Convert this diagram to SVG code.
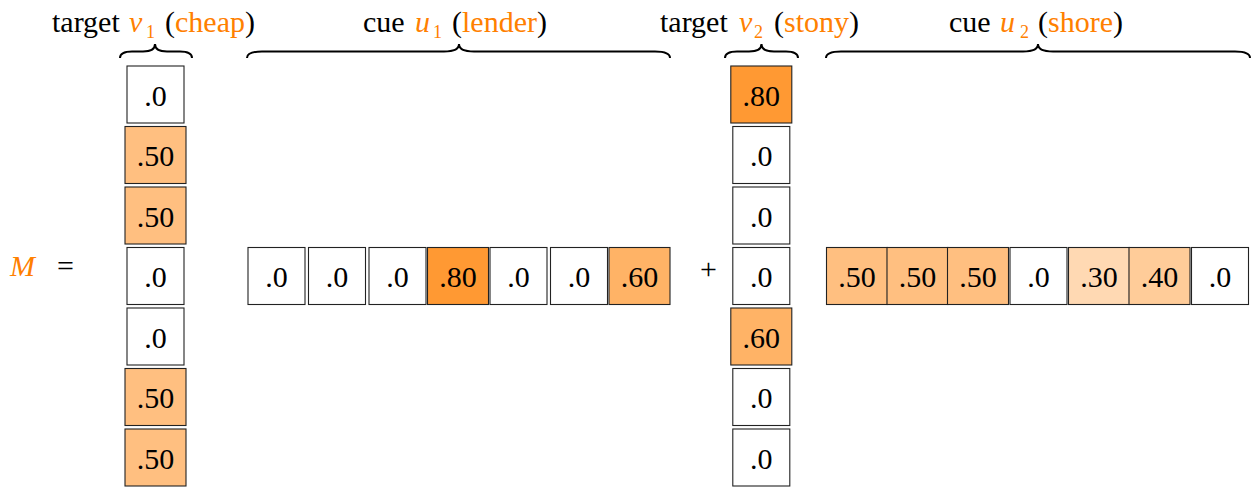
<svg xmlns="http://www.w3.org/2000/svg" width="1251" height="487" viewBox="0 0 1251 487">
<g id="labels" font-family="Liberation Serif" font-size="30">
<text font-family="Liberation Serif" x="52" y="32">target<tspan x="129" fill="#FF8000" font-style="italic">v</tspan><tspan fill="#FF8000" font-size="18" x="146" y="37.5">1</tspan><tspan x="165" y="32">(</tspan><tspan fill="#FF8000">cheap</tspan>)</text>
<text font-family="Liberation Serif" x="363" y="32">cue<tspan x="415" fill="#FF8000" font-style="italic">u</tspan><tspan fill="#FF8000" font-size="18" x="433" y="37.5">1</tspan><tspan x="452" y="32">(</tspan><tspan fill="#FF8000">lender</tspan>)</text>
<text font-family="Liberation Serif" x="660" y="32">target<tspan x="739" fill="#FF8000" font-style="italic">v</tspan><tspan fill="#FF8000" font-size="18" x="754" y="37.5">2</tspan><tspan x="774" y="32">(</tspan><tspan fill="#FF8000">stony</tspan>)</text>
<text font-family="Liberation Serif" x="949" y="32">cue<tspan x="1000" fill="#FF8000" font-style="italic">u</tspan><tspan fill="#FF8000" font-size="18" x="1020" y="37.5">2</tspan><tspan x="1038" y="32">(</tspan><tspan fill="#FF8000">shore</tspan>)</text>
<text font-family="Liberation Serif" fill="#FF8000" font-style="italic" x="10" y="276">M</text>
<text font-family="Liberation Serif" x="57" y="276">=</text>
<text font-family="Liberation Serif" x="700" y="279">+</text>
</g>
<g id="braces" fill="none" stroke="#000" stroke-width="2">
<path d="M120,58 Q120,51.5 132,51.5 L143,51.5 Q155,51.5 155,44 Q155,51.5 167,51.5 L180,51.5 Q192,51.5 192,58"/>
<path d="M247,58 Q247,51.5 262,51.5 L444,51.5 Q459,51.5 459,44 Q459,51.5 474,51.5 L655,51.5 Q670,51.5 670,58"/>
<path d="M725,58 Q725,51.5 737,51.5 L749,51.5 Q761.5,51.5 761.5,44 Q761.5,51.5 774,51.5 L786,51.5 Q798,51.5 798,58"/>
<path d="M826,58 Q826,51.5 841,51.5 L1023,51.5 Q1038,51.5 1038,44 Q1038,51.5 1053,51.5 L1235,51.5 Q1250,51.5 1250,58"/>
</g>
<g id="v1" stroke-width="1.1" font-family="Liberation Serif" font-size="30" text-anchor="middle">
<g id="v1-1"><rect x="127" y="66" width="57" height="57" fill="#fff" stroke="#222"/><text font-family="Liberation Serif" x="155.5" y="105.5">.0</text></g>
<g id="v1-2"><rect x="125" y="126.5" width="61" height="57" fill="#FFBF80" stroke="#222"/><text font-family="Liberation Serif" x="155.5" y="166">.50</text></g>
<g id="v1-3"><rect x="125" y="187" width="61" height="57" fill="#FFBF80" stroke="#222"/><text font-family="Liberation Serif" x="155.5" y="226.5">.50</text></g>
<g id="v1-4"><rect x="127" y="247.5" width="57" height="57" fill="#fff" stroke="#222"/><text font-family="Liberation Serif" x="155.5" y="287">.0</text></g>
<g id="v1-5"><rect x="127" y="308" width="57" height="57" fill="#fff" stroke="#222"/><text font-family="Liberation Serif" x="155.5" y="347.5">.0</text></g>
<g id="v1-6"><rect x="125" y="368.5" width="61" height="57" fill="#FFBF80" stroke="#222"/><text font-family="Liberation Serif" x="155.5" y="408">.50</text></g>
<g id="v1-7"><rect x="125" y="429" width="61" height="57" fill="#FFBF80" stroke="#222"/><text font-family="Liberation Serif" x="155.5" y="468.5">.50</text></g>
</g>
<g id="u1" stroke-width="1.1" font-family="Liberation Serif" font-size="30" text-anchor="middle">
<g id="u1-1"><rect x="248" y="247.5" width="57" height="57" fill="#fff" stroke="#222"/><text font-family="Liberation Serif" x="276.5" y="287">.0</text></g>
<g id="u1-2"><rect x="308.5" y="247.5" width="57" height="57" fill="#fff" stroke="#222"/><text font-family="Liberation Serif" x="337" y="287">.0</text></g>
<g id="u1-3"><rect x="369" y="247.5" width="57" height="57" fill="#fff" stroke="#222"/><text font-family="Liberation Serif" x="397.5" y="287">.0</text></g>
<g id="u1-4"><rect x="427.5" y="247.5" width="61" height="57" fill="#FF9933" stroke="#222"/><text font-family="Liberation Serif" x="458" y="287">.80</text></g>
<g id="u1-5"><rect x="490" y="247.5" width="57" height="57" fill="#fff" stroke="#222"/><text font-family="Liberation Serif" x="518.5" y="287">.0</text></g>
<g id="u1-6"><rect x="550.5" y="247.5" width="57" height="57" fill="#fff" stroke="#222"/><text font-family="Liberation Serif" x="579" y="287">.0</text></g>
<g id="u1-7"><rect x="609" y="247.5" width="61" height="57" fill="#FFB366" stroke="#222"/><text font-family="Liberation Serif" x="639.5" y="287">.60</text></g>
</g>
<g id="v2" stroke-width="1.1" font-family="Liberation Serif" font-size="30" text-anchor="middle">
<g id="v2-1"><rect x="730.8" y="66" width="61" height="57" fill="#FF9933" stroke="#222"/><text font-family="Liberation Serif" x="761.3" y="105.5">.80</text></g>
<g id="v2-2"><rect x="732.8" y="126.5" width="57" height="57" fill="#fff" stroke="#222"/><text font-family="Liberation Serif" x="761.3" y="166">.0</text></g>
<g id="v2-3"><rect x="732.8" y="187" width="57" height="57" fill="#fff" stroke="#222"/><text font-family="Liberation Serif" x="761.3" y="226.5">.0</text></g>
<g id="v2-4"><rect x="732.8" y="247.5" width="57" height="57" fill="#fff" stroke="#222"/><text font-family="Liberation Serif" x="761.3" y="287">.0</text></g>
<g id="v2-5"><rect x="730.8" y="308" width="61" height="57" fill="#FFB366" stroke="#222"/><text font-family="Liberation Serif" x="761.3" y="347.5">.60</text></g>
<g id="v2-6"><rect x="732.8" y="368.5" width="57" height="57" fill="#fff" stroke="#222"/><text font-family="Liberation Serif" x="761.3" y="408">.0</text></g>
<g id="v2-7"><rect x="732.8" y="429" width="57" height="57" fill="#fff" stroke="#222"/><text font-family="Liberation Serif" x="761.3" y="468.5">.0</text></g>
</g>
<g id="u2" stroke-width="1.1" font-family="Liberation Serif" font-size="30" text-anchor="middle">
<g id="u2-1"><rect x="826.5" y="247.5" width="61" height="57" fill="#FFBF80" stroke="#222"/><text font-family="Liberation Serif" x="857" y="287">.50</text></g>
<g id="u2-2"><rect x="887" y="247.5" width="61" height="57" fill="#FFBF80" stroke="#222"/><text font-family="Liberation Serif" x="917.5" y="287">.50</text></g>
<g id="u2-3"><rect x="947.5" y="247.5" width="61" height="57" fill="#FFBF80" stroke="#222"/><text font-family="Liberation Serif" x="978" y="287">.50</text></g>
<g id="u2-4"><rect x="1010" y="247.5" width="57" height="57" fill="#fff" stroke="#222"/><text font-family="Liberation Serif" x="1038.5" y="287">.0</text></g>
<g id="u2-5"><rect x="1068.5" y="247.5" width="61" height="57" fill="#FFD9B3" stroke="#222"/><text font-family="Liberation Serif" x="1099" y="287">.30</text></g>
<g id="u2-6"><rect x="1129" y="247.5" width="61" height="57" fill="#FFCC99" stroke="#222"/><text font-family="Liberation Serif" x="1159.5" y="287">.40</text></g>
<g id="u2-7"><rect x="1191.5" y="247.5" width="57" height="57" fill="#fff" stroke="#222"/><text font-family="Liberation Serif" x="1220" y="287">.0</text></g>
</g>
<g id="connectors"/>
</svg>
